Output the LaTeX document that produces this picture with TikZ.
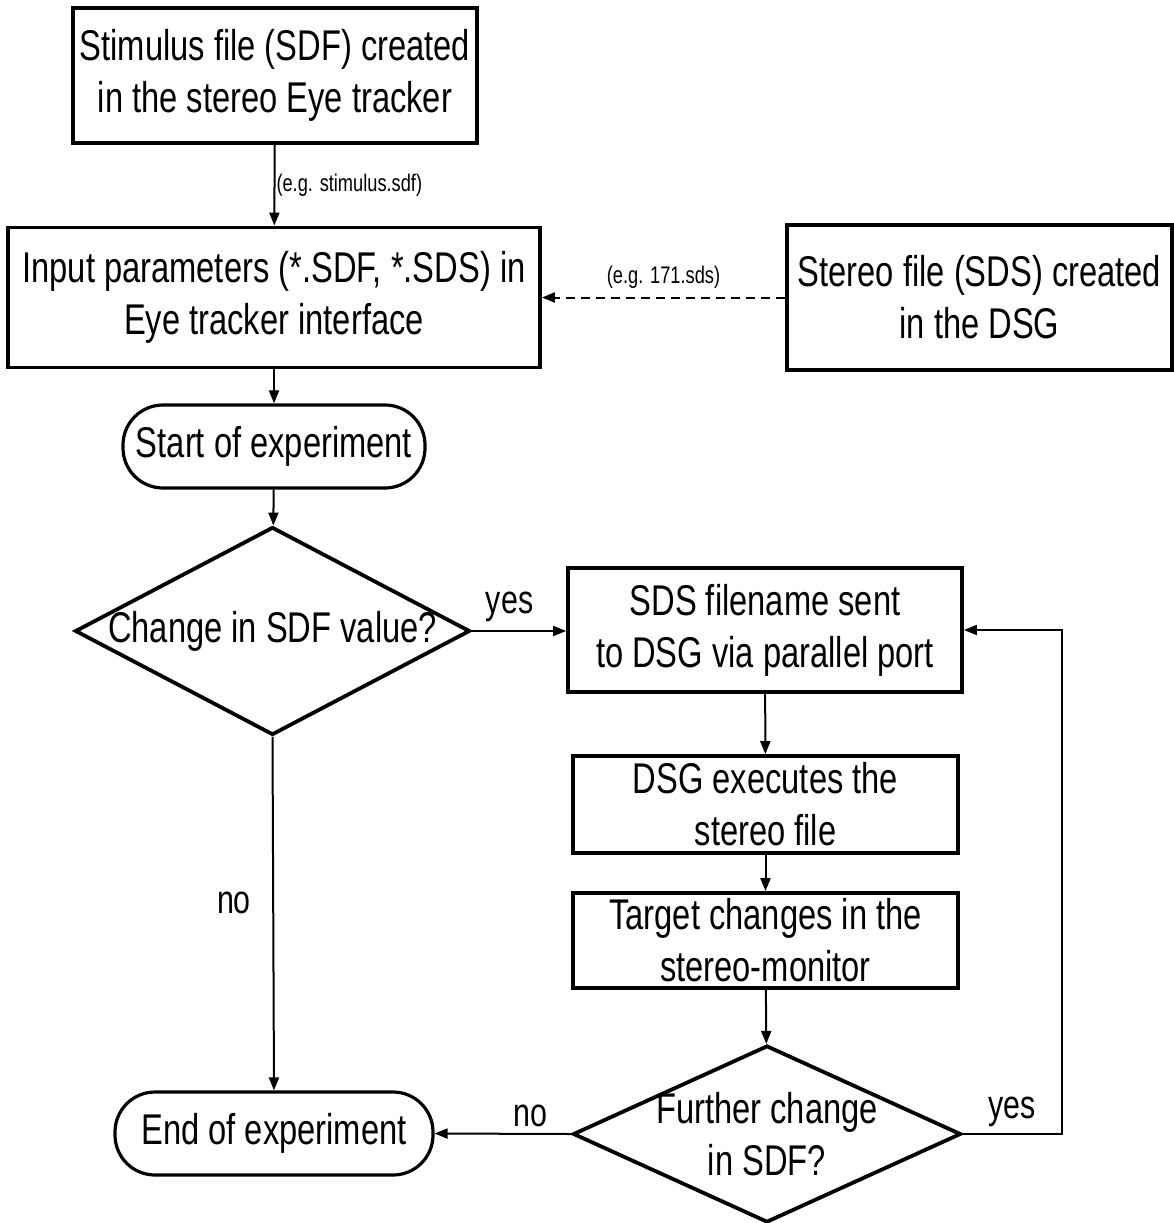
\documentclass[tikz,border=0pt]{standalone}
\usepackage{fontspec}
\setmainfont[FakeStretch=0.76]{Liberation Sans}
\usetikzlibrary{arrows.meta,shapes.geometric}

\tikzset{
  box/.style={draw, line width=3.8pt, align=center, inner sep=0pt, font=\fontsize{43}{52}\selectfont},
  term/.style={box, line width=3.2pt, rounded corners=40pt},
  decision/.style={draw, diamond, line width=3.8pt, inner sep=0pt},
  dectext/.style={font=\fontsize{43}{52}\selectfont, align=center, inner sep=0pt},
  flow/.style={line width=2pt, -{Triangle[length=13pt,width=10pt]}},
  small/.style={font=\fontsize{24}{28}\selectfont},
  answer/.style={font=\fontsize{40}{46}\selectfont}
}

\begin{document}
\begin{tikzpicture}[x=1pt,y=-1pt]
\useasboundingbox (0,0) rectangle (1173,1223);

% boxes
\node[box, minimum width=404pt, minimum height=135pt] (stim) at (275,75.5) {Stimulus file (SDF) created\\in the stereo Eye tracker};
\node[box, minimum width=532pt, minimum height=140pt] (input) at (274,297.5) {Input parameters (*.SDF, *.SDS) in\\Eye tracker interface};
\node[box, minimum width=385pt, minimum height=145pt] (stereo) at (979.5,297.5) {Stereo file (SDS) created\\in the DSG};
\node[term, minimum width=302pt, minimum height=83pt] (start) at (274,446.5) {Start of experiment};
\node[decision, minimum width=395pt, minimum height=208pt,
      label={[dectext]center:Change in SDF value?}] (dec1) at (272.5,631) {};
\node[box, minimum width=394pt, minimum height=124pt] (sds) at (765,630) {SDS filename sent\\to DSG via parallel port};
\node[box, minimum width=385pt, minimum height=97pt] (exec) at (765.5,804.5) {DSG executes the\\stereo file};
\node[box, minimum width=385pt, minimum height=95pt] (target) at (765.5,940.5) {Target changes in the\\stereo-monitor};
\node[decision, minimum width=388pt, minimum height=177pt,
      label={[dectext]center:Further change\\in SDF?}] (dec2) at (767,1134) {};
\node[term, minimum width=318pt, minimum height=83pt] (endexp) at (274,1133.5) {End of experiment};

% connectors
\draw[flow] (stim) -- node[small, right, inner sep=1pt] {(e.g. stimulus.sdf)} (input);
\draw[flow, dashed, dash pattern=on 9pt off 6pt] (stereo) -- node[small, above, inner sep=8pt] {(e.g. 171.sds)} (input);
\draw[flow] (input) -- (start);
\draw[flow] (start) -- (dec1);
\draw[flow] (dec1.east) -- node[answer, above, pos=0.4, inner sep=8pt] {yes} (sds.west |- dec1.east);
\draw[flow] (sds) -- (exec);
\draw[flow] (exec) -- (target);
\draw[flow] (target) -- (dec2);
\draw[flow] (dec2.east) -- node[answer, above, inner sep=6pt] {yes} ++(99,0) |- (sds.east);
\draw[flow] (dec2.west) -- node[answer, above, pos=0.3, inner sep=6pt] {no} (endexp.east);
\draw[flow] (dec1.south) -- node[answer, left, pos=0.47, xshift=-18pt] {no} (endexp.north);
\end{tikzpicture}
\end{document}
